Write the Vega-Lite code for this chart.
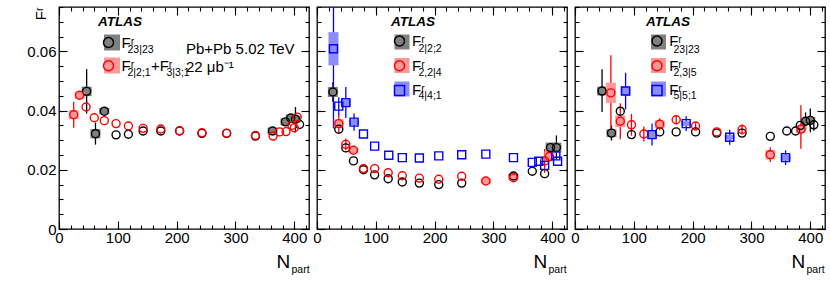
{
  "$schema": "https://vega.github.io/schema/vega-lite/v6.json",
  "background": "white",
  "padding": {"left": 26, "top": 5, "right": 0, "bottom": 0},
  "bounds": "flush",
  "spacing": 8,
  "config": {
    "font": "Liberation Sans",
    "view": {"stroke": "#000", "strokeWidth": 1.3},
    "axis": {"domain": false, "grid": false, "tickColor": "#000", "tickWidth": 1.1, "labelColor": "#000", "titleColor": "#000", "labelFont": "Liberation Sans", "titleFont": "Liberation Sans", "labelFlush": false, "labelOverlap": false, "titleFontWeight": "normal"},
    "legend": {"labelColor": "#000", "titleColor": "#000", "labelFont": "Liberation Sans", "titleFont": "Liberation Sans", "padding": 0},
    "title": {"color": "#000", "subtitleColor": "#000", "font": "Liberation Sans", "subtitleFont": "Liberation Sans"}
  },
  "datasets": {
    "p1": [
      {"s":"a","n":47,"v":0.0465,"lo":0.039,"hi":0.054,"slo":0.0449,"shi":0.0481},
      {"s":"a","n":62,"v":0.0322,"lo":0.0285,"hi":0.0359,"slo":0.0306,"shi":0.0338},
      {"s":"a","n":77,"v":0.0398,"slo":0.0387,"shi":0.0409},
      {"s":"a","n":97,"v":0.0318},
      {"s":"a","n":118,"v":0.032},
      {"s":"a","n":143,"v":0.0331},
      {"s":"a","n":173,"v":0.0331},
      {"s":"a","n":205,"v":0.0331},
      {"s":"a","n":243,"v":0.0323},
      {"s":"a","n":285,"v":0.0323},
      {"s":"a","n":334,"v":0.0314},
      {"s":"a","n":363,"v":0.0331,"slo":0.0319,"shi":0.0343},
      {"s":"a","n":385,"v":0.0362,"slo":0.035,"shi":0.0374},
      {"s":"a","n":394,"v":0.0375,"slo":0.0363,"shi":0.0387},
      {"s":"a","n":402,"v":0.0371,"lo":0.0326,"hi":0.0412,"slo":0.0359,"shi":0.0383},
      {"s":"a","n":409,"v":0.0353},
      {"s":"b","n":25,"v":0.0386,"lo":0.0342,"hi":0.043,"slo":0.0371,"shi":0.0401},
      {"s":"b","n":35,"v":0.0452,"slo":0.044,"shi":0.0464},
      {"s":"b","n":46,"v":0.0412},
      {"s":"b","n":60,"v":0.0376},
      {"s":"b","n":77,"v":0.0366},
      {"s":"b","n":97,"v":0.0356},
      {"s":"b","n":118,"v":0.0348},
      {"s":"b","n":143,"v":0.034},
      {"s":"b","n":173,"v":0.0338},
      {"s":"b","n":205,"v":0.0332},
      {"s":"b","n":243,"v":0.0325},
      {"s":"b","n":285,"v":0.0324},
      {"s":"b","n":334,"v":0.0316},
      {"s":"b","n":364,"v":0.0314},
      {"s":"b","n":375,"v":0.0328},
      {"s":"b","n":386,"v":0.0329},
      {"s":"b","n":396,"v":0.035},
      {"s":"b","n":400,"v":0.0342},
      {"s":"b","n":405,"v":0.0378}
    ],
    "p2": [
      {"s":"a","n":27,"v":0.0463,"lo":0.043,"hi":0.0496,"slo":0.0446,"shi":0.048},
      {"s":"a","n":37,"v":0.0337},
      {"s":"a","n":49,"v":0.0274},
      {"s":"a","n":62,"v":0.023},
      {"s":"a","n":79,"v":0.02},
      {"s":"a","n":98,"v":0.0183},
      {"s":"a","n":121,"v":0.017},
      {"s":"a","n":145,"v":0.0159},
      {"s":"a","n":174,"v":0.0155},
      {"s":"a","n":207,"v":0.015},
      {"s":"a","n":246,"v":0.0155},
      {"s":"a","n":334,"v":0.0179,"slo":0.0171,"shi":0.0187},
      {"s":"a","n":366,"v":0.0195},
      {"s":"a","n":387,"v":0.0187},
      {"s":"a","n":397,"v":0.0275,"slo":0.0258,"shi":0.0292},
      {"s":"a","n":407,"v":0.0275,"lo":0.0235,"hi":0.0316,"slo":0.0258,"shi":0.0292},
      {"s":"b","n":37,"v":0.0356,"lo":0.0326,"hi":0.0386,"slo":0.0341,"shi":0.0371},
      {"s":"b","n":49,"v":0.0286,"lo":0.0266,"hi":0.0306},
      {"s":"b","n":62,"v":0.0266,"slo":0.0256,"shi":0.0276},
      {"s":"b","n":79,"v":0.0204},
      {"s":"b","n":98,"v":0.0204},
      {"s":"b","n":121,"v":0.019},
      {"s":"b","n":145,"v":0.018},
      {"s":"b","n":174,"v":0.0172},
      {"s":"b","n":207,"v":0.0168},
      {"s":"b","n":246,"v":0.0178},
      {"s":"b","n":287,"v":0.0162,"slo":0.0152,"shi":0.0172},
      {"s":"b","n":334,"v":0.0173,"slo":0.0165,"shi":0.0181},
      {"s":"b","n":387,"v":0.023,"lo":0.019,"hi":0.027},
      {"s":"b","n":395,"v":0.0245,"slo":0.0228,"shi":0.0262},
      {"s":"c","n":28,"v":0.0609,"lo":0.034,"hi":0.09,"slo":0.0553,"shi":0.0665},
      {"s":"c","n":37,"v":0.0415,"lo":0.0385,"hi":0.0445},
      {"s":"c","n":49,"v":0.0427,"lo":0.0375,"hi":0.048,"slo":0.0415,"shi":0.0439},
      {"s":"c","n":63,"v":0.0361,"lo":0.0332,"hi":0.039,"slo":0.0351,"shi":0.0371},
      {"s":"c","n":79,"v":0.0321},
      {"s":"c","n":98,"v":0.028},
      {"s":"c","n":122,"v":0.0249},
      {"s":"c","n":145,"v":0.0241},
      {"s":"c","n":174,"v":0.024},
      {"s":"c","n":207,"v":0.0247},
      {"s":"c","n":246,"v":0.0251},
      {"s":"c","n":287,"v":0.0253},
      {"s":"c","n":334,"v":0.0241},
      {"s":"c","n":366,"v":0.0225},
      {"s":"c","n":377,"v":0.0229},
      {"s":"c","n":387,"v":0.0215},
      {"s":"c","n":406,"v":0.0247},
      {"s":"c","n":409,"v":0.0229}
    ],
    "p3": [
      {"s":"a","n":46,"v":0.0466,"lo":0.0395,"hi":0.054,"slo":0.0451,"shi":0.0481},
      {"s":"a","n":62,"v":0.0324,"lo":0.0299,"hi":0.035,"slo":0.0311,"shi":0.0337},
      {"s":"a","n":77,"v":0.0398},
      {"s":"a","n":96,"v":0.0319},
      {"s":"a","n":144,"v":0.0328},
      {"s":"a","n":172,"v":0.0328},
      {"s":"a","n":205,"v":0.0328},
      {"s":"a","n":241,"v":0.0324},
      {"s":"a","n":284,"v":0.0324},
      {"s":"a","n":332,"v":0.0313},
      {"s":"a","n":360,"v":0.0331},
      {"s":"a","n":375,"v":0.0331},
      {"s":"a","n":383,"v":0.035},
      {"s":"a","n":392,"v":0.0364,"lo":0.0334,"hi":0.0394,"slo":0.0352,"shi":0.0376},
      {"s":"a","n":400,"v":0.0367,"lo":0.0327,"hi":0.0407,"slo":0.0355,"shi":0.0379},
      {"s":"a","n":406,"v":0.0352,"lo":0.0332,"hi":0.0372},
      {"s":"b","n":61,"v":0.046,"lo":0.032,"hi":0.0587,"slo":0.0426,"shi":0.0494},
      {"s":"b","n":77,"v":0.0364,"lo":0.0303,"hi":0.0425,"slo":0.0344,"shi":0.0384},
      {"s":"b","n":96,"v":0.0352,"lo":0.0315,"hi":0.0389},
      {"s":"b","n":117,"v":0.0321,"lo":0.0296,"hi":0.0346},
      {"s":"b","n":144,"v":0.0354,"lo":0.0334,"hi":0.0374,"slo":0.0341,"shi":0.0367},
      {"s":"b","n":172,"v":0.0369,"lo":0.0354,"hi":0.0384},
      {"s":"b","n":205,"v":0.0348,"lo":0.0338,"hi":0.0358},
      {"s":"b","n":241,"v":0.0328},
      {"s":"b","n":284,"v":0.0336,"lo":0.0319,"hi":0.0353},
      {"s":"b","n":332,"v":0.0251,"lo":0.0226,"hi":0.0276,"slo":0.0235,"shi":0.0267},
      {"s":"b","n":384,"v":0.0337,"lo":0.0271,"hi":0.0418,"slo":0.0324,"shi":0.035},
      {"s":"c","n":86,"v":0.0466,"lo":0.0404,"hi":0.0528,"slo":0.0451,"shi":0.0481},
      {"s":"c","n":131,"v":0.0319,"lo":0.0282,"hi":0.0356,"slo":0.0304,"shi":0.0334},
      {"s":"c","n":189,"v":0.0356,"lo":0.0331,"hi":0.0381,"slo":0.0348,"shi":0.0364},
      {"s":"c","n":263,"v":0.031,"lo":0.0285,"hi":0.0335,"slo":0.0302,"shi":0.0318},
      {"s":"c","n":358,"v":0.0241,"lo":0.0216,"hi":0.0266,"slo":0.0231,"shi":0.0251}
    ]
  },
  "resolve": {
    "scale": {"x": "independent", "y": "independent", "color": "independent", "fill": "independent", "stroke": "independent", "shape": "independent"},
    "axis": {"x": "independent", "y": "independent"},
    "legend": {"color": "independent", "fill": "independent", "stroke": "independent", "shape": "independent"}
  },
  "hconcat": [
    {
      "width": 250, "height": 222,
      "data": {"name": "p1"},
      "title": {"text": "Pb+Pb 5.02 TeV", "subtitle": "\u00a0\u00a0\u00a0\u00a022 \u03bcb\u207b\u00b9", "anchor": "start", "frame": "group", "align": "left", "dx": 127, "dy": 69, "offset": 0, "fontSize": 15, "fontWeight": "normal", "subtitleFontSize": 15, "subtitlePadding": 3},
      "layer": [
        {
          "mark": {"type": "rule", "strokeWidth": 1.3, "clip": true},
          "encoding": {
            "x": {"field": "n", "type": "quantitative", "scale": {"domain": [0, 425], "nice": false, "zero": false, "padding": 0}, "axis": {"orient": "bottom", "values": [0,100,200,300,400], "tickSize": -8, "labelFontSize": 15, "labelPadding": 9, "title": "N", "titleFontSize": 19, "titleX": 217, "titleY": 38, "titleAlign": "left", "titleBaseline": "alphabetic", "titleAngle": 0}},
            "y": {"field": "lo", "type": "quantitative", "scale": {"domain": [0, 0.075], "nice": false, "zero": false}, "axis": {"orient": "left", "values": [0,0.02,0.04,0.06], "format": "~g", "tickSize": -8, "labelFontSize": 15, "labelPadding": 11, "title": "F\u02b3", "titleFontSize": 15, "titleX": -14, "titleY": 0, "titleAngle": -90, "titleAlign": "right", "titleBaseline": "alphabetic"}},
            "y2": {"field": "hi"},
            "color": {"field": "s", "type": "nominal", "scale": {"domain": ["a","b","zc"], "range": ["#000000","#ff0000","#ffffff"]}, "legend": null}
          }
        },
        {
          "mark": {"type": "bar", "width": 10, "clip": true},
          "encoding": {
            "x": {"field": "n", "type": "quantitative", "scale": {"domain": [0, 425], "nice": false, "zero": false, "padding": 0}, "axis": {"orient": "bottom", "values": [0,20,40,60,80,100,120,140,160,180,200,220,240,260,280,300,320,340,360,380,400,420], "tickSize": -4, "labels": false, "title": "part", "titleFontSize": 10.5, "titleX": 232, "titleY": 43, "titleAlign": "left", "titleBaseline": "alphabetic", "titleAngle": 0}},
            "y": {"field": "slo", "type": "quantitative", "scale": {"domain": [0, 0.075], "nice": false, "zero": false}, "axis": {"orient": "left", "values": [0,0.005,0.01,0.015,0.02,0.025,0.03,0.035,0.04,0.045,0.05,0.055,0.06,0.065,0.07,0.075], "tickSize": -4, "labels": false, "title": null}},
            "y2": {"field": "shi"},
            "fill": {"field": "s", "type": "nominal", "scale": {"domain": ["a","b","zf"], "range": ["#808080","#ff9999","#ffffff"]}, "legend": {"values": ["a","b"], "orient": "none", "legendX": 39, "legendY": 8, "title": "ATLAS", "titleFontSize": 13.5, "titleFontStyle": "italic", "titleFontWeight": "bold", "titlePadding": 6, "symbolType": "square", "symbolSize": 256, "symbolOffset": 6, "symbolStrokeWidth": 0, "labelExpr": "''", "rowPadding": 7}}
          }
        },
        {
          "mark": {"type": "point", "filled": false, "size": 64, "strokeWidth": 1.4, "opacity": 1},
          "encoding": {
            "x": {"field": "n", "type": "quantitative", "scale": {"domain": [0, 425], "nice": false, "zero": false, "padding": 0}, "axis": {"orient": "top", "values": [0,100,200,300,400], "tickSize": -8, "labels": false, "title": "23|23", "titleFontSize": 10.5, "titleX": 68, "titleY": 45, "titleAlign": "left", "titleBaseline": "alphabetic", "titleAngle": 0}},
            "y": {"field": "v", "type": "quantitative", "scale": {"domain": [0, 0.075], "nice": false, "zero": false}, "axis": {"orient": "right", "values": [0,0.02,0.04,0.06], "tickSize": -8, "labels": false, "title": "3|3;1", "titleFontSize": 10.5, "titleX": -143, "titleY": 68, "titleAlign": "left", "titleBaseline": "alphabetic", "titleAngle": 0}},
            "stroke": {"field": "s", "type": "nominal", "scale": {"domain": ["a","b"], "range": ["#000000","#ff0000"]}, "legend": {"orient": "none", "legendX": 42, "legendY": 28, "title": null, "symbolSize": 100, "symbolStrokeWidth": 1.5, "symbolOffset": 0, "labelFontSize": 15, "labelOffset": 5.5, "rowPadding": 6.3, "labelExpr": "datum.value === 'a' ? 'F\u02b3' : 'F\u02b3\u00a0\u00a0\u00a0\u00a0+F\u02b3'"}},
            "shape": {"field": "s", "type": "nominal", "scale": {"domain": ["a","b"], "range": ["circle","circle"]}, "legend": {"orient": "none", "legendX": 42, "legendY": 28, "title": null, "symbolSize": 100, "symbolStrokeWidth": 1.5, "symbolOffset": 0, "labelFontSize": 15, "labelOffset": 5.5, "rowPadding": 6.3, "labelExpr": "datum.value === 'a' ? 'F\u02b3' : 'F\u02b3\u00a0\u00a0\u00a0\u00a0+F\u02b3'"}}
          }
        },
        {
          "mark": {"type": "point", "opacity": 0},
          "encoding": {
            "x": {"field": "n", "type": "quantitative", "scale": {"domain": [0, 425], "nice": false, "zero": false, "padding": 0}, "axis": {"orient": "top", "values": [0,20,40,60,80,100,120,140,160,180,200,220,240,260,280,300,320,340,360,380,400,420], "tickSize": -4, "labels": false, "title": "2|2;1", "titleFontSize": 10.5, "titleX": 68, "titleY": 68, "titleAlign": "left", "titleBaseline": "alphabetic", "titleAngle": 0}},
            "y": {"field": "v", "type": "quantitative", "scale": {"domain": [0, 0.075], "nice": false, "zero": false}, "axis": {"orient": "right", "values": [0,0.005,0.01,0.015,0.02,0.025,0.03,0.035,0.04,0.045,0.05,0.055,0.06,0.065,0.07,0.075], "tickSize": -4, "labels": false, "title": null}}
          }
        }
      ],
      "resolve": {"axis": {"x": "independent", "y": "independent"}}
    },
    {
      "width": 250, "height": 222,
      "data": {"name": "p2"},
      "layer": [
        {
          "mark": {"type": "rule", "strokeWidth": 1.3, "clip": true},
          "encoding": {
            "x": {"field": "n", "type": "quantitative", "scale": {"domain": [0, 425], "nice": false, "zero": false, "padding": 0}, "axis": {"orient": "bottom", "values": [0,100,200,300,400], "tickSize": -8, "labelFontSize": 15, "labelPadding": 9, "title": "N", "titleFontSize": 19, "titleX": 216, "titleY": 38, "titleAlign": "left", "titleBaseline": "alphabetic", "titleAngle": 0}},
            "y": {"field": "lo", "type": "quantitative", "scale": {"domain": [0, 0.075], "nice": false, "zero": false}, "axis": {"orient": "left", "values": [0,0.02,0.04,0.06], "tickSize": -8, "labels": false, "title": null}},
            "y2": {"field": "hi"},
            "color": {"field": "s", "type": "nominal", "scale": {"domain": ["a","b","c","zc"], "range": ["#000000","#ff0000","#0000ff","#ffffff"]}, "legend": null}
          }
        },
        {
          "mark": {"type": "bar", "width": 10, "clip": true},
          "encoding": {
            "x": {"field": "n", "type": "quantitative", "scale": {"domain": [0, 425], "nice": false, "zero": false, "padding": 0}, "axis": {"orient": "bottom", "values": [0,20,40,60,80,100,120,140,160,180,200,220,240,260,280,300,320,340,360,380,400,420], "tickSize": -4, "labels": false, "title": "part", "titleFontSize": 10.5, "titleX": 231, "titleY": 43, "titleAlign": "left", "titleBaseline": "alphabetic", "titleAngle": 0}},
            "y": {"field": "slo", "type": "quantitative", "scale": {"domain": [0, 0.075], "nice": false, "zero": false}, "axis": {"orient": "left", "values": [0,0.005,0.01,0.015,0.02,0.025,0.03,0.035,0.04,0.045,0.05,0.055,0.06,0.065,0.07,0.075], "tickSize": -4, "labels": false, "title": null}},
            "y2": {"field": "shi"},
            "fill": {"field": "s", "type": "nominal", "scale": {"domain": ["a","b","c","zf"], "range": ["#808080","#ff9999","#8c8cff","#ffffff"]}, "legend": {"values": ["a","b","c"], "orient": "none", "legendX": 74, "legendY": 8, "title": "ATLAS", "titleFontSize": 13.5, "titleFontStyle": "italic", "titleFontWeight": "bold", "titlePadding": 6, "symbolType": "square", "symbolSize": 225, "symbolOffset": 3.5, "symbolStrokeWidth": 0, "labelExpr": "''", "rowPadding": 8.5}}
          }
        },
        {
          "mark": {"type": "point", "filled": false, "size": 64, "strokeWidth": 1.4, "opacity": 1},
          "encoding": {
            "x": {"field": "n", "type": "quantitative", "scale": {"domain": [0, 425], "nice": false, "zero": false, "padding": 0}, "axis": {"orient": "top", "values": [0,100,200,300,400], "tickSize": -8, "labels": false, "title": "2|2;2", "titleFontSize": 10.5, "titleX": 101, "titleY": 44.5, "titleAlign": "left", "titleBaseline": "alphabetic", "titleAngle": 0}},
            "y": {"field": "v", "type": "quantitative", "scale": {"domain": [0, 0.075], "nice": false, "zero": false}, "axis": {"orient": "right", "values": [0,0.02,0.04,0.06], "tickSize": -8, "labels": false, "title": "4|4;1", "titleFontSize": 10.5, "titleX": -149, "titleY": 91, "titleAlign": "left", "titleBaseline": "alphabetic", "titleAngle": 0}},
            "stroke": {"field": "s", "type": "nominal", "scale": {"domain": ["a","b","c"], "range": ["#000000","#ff0000","#0000ff"]}, "legend": {"orient": "none", "legendX": 75, "legendY": 26.5, "title": null, "symbolSize": 100, "symbolStrokeWidth": 1.5, "symbolOffset": 0, "labelFontSize": 15, "labelOffset": 5, "rowPadding": 7.7, "labelExpr": "'F\u02b3'"}},
            "shape": {"field": "s", "type": "nominal", "scale": {"domain": ["a","b","c"], "range": ["circle","circle","square"]}, "legend": {"orient": "none", "legendX": 75, "legendY": 26.5, "title": null, "symbolSize": 100, "symbolStrokeWidth": 1.5, "symbolOffset": 0, "labelFontSize": 15, "labelOffset": 5, "rowPadding": 7.7, "labelExpr": "'F\u02b3'"}}
          }
        },
        {
          "mark": {"type": "point", "opacity": 0},
          "encoding": {
            "x": {"field": "n", "type": "quantitative", "scale": {"domain": [0, 425], "nice": false, "zero": false, "padding": 0}, "axis": {"orient": "top", "values": [0,20,40,60,80,100,120,140,160,180,200,220,240,260,280,300,320,340,360,380,400,420], "tickSize": -4, "labels": false, "title": "2,2|4", "titleFontSize": 10.5, "titleX": 101, "titleY": 68, "titleAlign": "left", "titleBaseline": "alphabetic", "titleAngle": 0}},
            "y": {"field": "v", "type": "quantitative", "scale": {"domain": [0, 0.075], "nice": false, "zero": false}, "axis": {"orient": "right", "values": [0,0.005,0.01,0.015,0.02,0.025,0.03,0.035,0.04,0.045,0.05,0.055,0.06,0.065,0.07,0.075], "tickSize": -4, "labels": false, "title": null}}
          }
        }
      ],
      "resolve": {"axis": {"x": "independent", "y": "independent"}}
    },
    {
      "width": 250, "height": 222,
      "data": {"name": "p3"},
      "layer": [
        {
          "mark": {"type": "rule", "strokeWidth": 1.3, "clip": true},
          "encoding": {
            "x": {"field": "n", "type": "quantitative", "scale": {"domain": [0, 425], "nice": false, "zero": false, "padding": 0}, "axis": {"orient": "bottom", "values": [0,100,200,300,400], "tickSize": -8, "labelFontSize": 15, "labelPadding": 9, "title": "N", "titleFontSize": 19, "titleX": 216, "titleY": 38, "titleAlign": "left", "titleBaseline": "alphabetic", "titleAngle": 0}},
            "y": {"field": "lo", "type": "quantitative", "scale": {"domain": [0, 0.075], "nice": false, "zero": false}, "axis": {"orient": "left", "values": [0,0.02,0.04,0.06], "tickSize": -8, "labels": false, "title": null}},
            "y2": {"field": "hi"},
            "color": {"field": "s", "type": "nominal", "scale": {"domain": ["a","b","c","zc"], "range": ["#000000","#ff0000","#0000ff","#ffffff"]}, "legend": null}
          }
        },
        {
          "mark": {"type": "bar", "width": 10, "clip": true},
          "encoding": {
            "x": {"field": "n", "type": "quantitative", "scale": {"domain": [0, 425], "nice": false, "zero": false, "padding": 0}, "axis": {"orient": "bottom", "values": [0,20,40,60,80,100,120,140,160,180,200,220,240,260,280,300,320,340,360,380,400,420], "tickSize": -4, "labels": false, "title": "part", "titleFontSize": 10.5, "titleX": 231, "titleY": 43, "titleAlign": "left", "titleBaseline": "alphabetic", "titleAngle": 0}},
            "y": {"field": "slo", "type": "quantitative", "scale": {"domain": [0, 0.075], "nice": false, "zero": false}, "axis": {"orient": "left", "values": [0,0.005,0.01,0.015,0.02,0.025,0.03,0.035,0.04,0.045,0.05,0.055,0.06,0.065,0.07,0.075], "tickSize": -4, "labels": false, "title": null}},
            "y2": {"field": "shi"},
            "fill": {"field": "s", "type": "nominal", "scale": {"domain": ["a","b","c","zf"], "range": ["#808080","#ff9999","#8c8cff","#ffffff"]}, "legend": {"values": ["a","b","c"], "orient": "none", "legendX": 71, "legendY": 8, "title": "ATLAS", "titleFontSize": 13.5, "titleFontStyle": "italic", "titleFontWeight": "bold", "titlePadding": 6, "symbolType": "square", "symbolSize": 225, "symbolOffset": 5, "symbolStrokeWidth": 0, "labelExpr": "''", "rowPadding": 8.5}}
          }
        },
        {
          "mark": {"type": "point", "filled": false, "size": 64, "strokeWidth": 1.4, "opacity": 1},
          "encoding": {
            "x": {"field": "n", "type": "quantitative", "scale": {"domain": [0, 425], "nice": false, "zero": false, "padding": 0}, "axis": {"orient": "top", "values": [0,100,200,300,400], "tickSize": -8, "labels": false, "title": "23|23", "titleFontSize": 10.5, "titleX": 98, "titleY": 45, "titleAlign": "left", "titleBaseline": "alphabetic", "titleAngle": 0}},
            "y": {"field": "v", "type": "quantitative", "scale": {"domain": [0, 0.075], "nice": false, "zero": false}, "axis": {"orient": "right", "values": [0,0.02,0.04,0.06], "tickSize": -8, "labels": false, "title": "5|5;1", "titleFontSize": 10.5, "titleX": -152, "titleY": 91, "titleAlign": "left", "titleBaseline": "alphabetic", "titleAngle": 0}},
            "stroke": {"field": "s", "type": "nominal", "scale": {"domain": ["a","b","c"], "range": ["#000000","#ff0000","#0000ff"]}, "legend": {"orient": "none", "legendX": 74.5, "legendY": 26.5, "title": null, "symbolSize": 100, "symbolStrokeWidth": 1.5, "symbolOffset": 0, "labelFontSize": 15, "labelOffset": 4.7, "rowPadding": 7.7, "labelExpr": "'F\u02b3'"}},
            "shape": {"field": "s", "type": "nominal", "scale": {"domain": ["a","b","c"], "range": ["circle","circle","square"]}, "legend": {"orient": "none", "legendX": 74.5, "legendY": 26.5, "title": null, "symbolSize": 100, "symbolStrokeWidth": 1.5, "symbolOffset": 0, "labelFontSize": 15, "labelOffset": 4.7, "rowPadding": 7.7, "labelExpr": "'F\u02b3'"}}
          }
        },
        {
          "mark": {"type": "point", "opacity": 0},
          "encoding": {
            "x": {"field": "n", "type": "quantitative", "scale": {"domain": [0, 425], "nice": false, "zero": false, "padding": 0}, "axis": {"orient": "top", "values": [0,20,40,60,80,100,120,140,160,180,200,220,240,260,280,300,320,340,360,380,400,420], "tickSize": -4, "labels": false, "title": "2,3|5", "titleFontSize": 10.5, "titleX": 98, "titleY": 68, "titleAlign": "left", "titleBaseline": "alphabetic", "titleAngle": 0}},
            "y": {"field": "v", "type": "quantitative", "scale": {"domain": [0, 0.075], "nice": false, "zero": false}, "axis": {"orient": "right", "values": [0,0.005,0.01,0.015,0.02,0.025,0.03,0.035,0.04,0.045,0.05,0.055,0.06,0.065,0.07,0.075], "tickSize": -4, "labels": false, "title": null}}
          }
        }
      ],
      "resolve": {"axis": {"x": "independent", "y": "independent"}}
    }
  ]
}
